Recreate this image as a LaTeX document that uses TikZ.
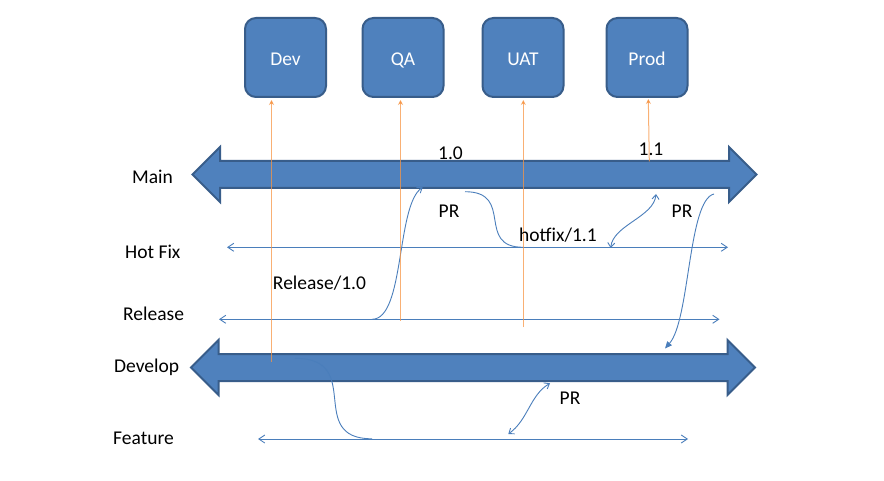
\documentclass[tikz,border=0pt]{standalone}
\usepackage{fontspec}
\setmainfont{Carlito}
\usetikzlibrary{arrows.meta,shapes.arrows}
\definecolor{boxblue}{HTML}{4F81BD}
\definecolor{boxedge}{HTML}{385D8A}
\definecolor{conn}{HTML}{4A7EBB}
\definecolor{orangeln}{HTML}{F79646}
\newcommand{\boxtxt}[1]{\raisebox{-1.5pt}{#1}}
\begin{document}
\begin{tikzpicture}[x=1pt,y=-1pt,
  font=\fontsize{19.5}{23}\selectfont,
  envbox/.style={draw=boxedge, fill=boxblue, line width=2pt, rounded corners=11pt,
    minimum width=81pt, minimum height=79pt, inner sep=0pt, text=white,
    text height=12.6pt, text depth=0pt},
  bigarr/.style={double arrow, draw=boxedge, fill=boxblue, line width=2pt,
    inner xsep=0pt, inner ysep=12.5pt, double arrow head extend=14pt,
    minimum height=564pt},
  lbl/.style={anchor=base west, inner sep=0pt},
  clbl/.style={anchor=base, inner sep=0pt},
  thinln/.style={draw=conn, line width=0.9pt},
  orng/.style={draw=orangeln, line width=1pt, draw opacity=0.75},
  openhd/.tip={Straight Barb[length=6pt,width=8pt]},
  smallhd/.tip={Straight Barb[length=4.5pt,width=7pt]},
  orhd/.tip={Stealth[length=5pt,width=5pt]},
  fillhd/.tip={Triangle[length=7pt,width=6pt]}
]
\fill[white] (0,0) rectangle (884,481);
\useasboundingbox (0,0) rectangle (884,481);

% environment boxes
\node[envbox] (Dev)  at (285.5,57.5) {\boxtxt{Dev}};
\node[envbox] (QA)   at (403,57.5)   {\boxtxt{QA}};
\node[envbox] (UAT)  at (523,57.5)   {\boxtxt{UAT}};
\node[envbox] (Prod) at (647,57.5)   {\boxtxt{Prod}};

% main and develop branches
\node[bigarr] (main) at (474.5,174.5) {};
\node[bigarr] (develop) at (473,367.5) {};

% branch lines
\coordinate (hfL) at (227,247.3);
\coordinate (hfR) at (728,247.3);
\coordinate (relL) at (219,319.3);
\coordinate (relR) at (719.5,319.3);
\coordinate (ftL) at (258,439);
\coordinate (ftR) at (688,439);
\draw[thinln, openhd-openhd] (hfL) -- (hfR);
\draw[thinln, openhd-openhd] (relL) -- (relR);
\draw[thinln, openhd-openhd] (ftL) -- (ftR);

% curved connectors
\coordinate (c1a) at (372,319.3);
\coordinate (c1b) at (422.7,187.3);
\draw[thinln, -smallhd] (c1a) .. controls (405,319.3) and (396,205) .. (c1b);

\coordinate (c2a) at (465,191.7);
\coordinate (c2b) at (523.3,247.3);
\draw[thinln] (c2a) .. controls (515,191.7) and (475,247.3) .. (c2b);

\coordinate (c3a) at (610.7,248);
\coordinate (c3b) at (656,194);
\draw[thinln, smallhd-smallhd] (c3a) .. controls (613,225) and (654,217) .. (c3b);

\coordinate (c4a) at (714,194);
\coordinate (c4b) at (665,348.5);
\draw[thinln, -fillhd] (c4a) .. controls (688,200) and (690,320) .. (c4b);

\coordinate (c5a) at (295,358.3);
\coordinate (c5b) at (372,438.8);
\draw[thinln] (c5a) .. controls (365,358.3) and (305,438.8) .. (c5b);

\coordinate (c6a) at (508.3,434);
\coordinate (c6b) at (550,383.3);
\draw[thinln, smallhd-smallhd] (c6a) .. controls (528,420) and (530,395) .. (c6b);

% deployments
\coordinate (oDev) at (271.5,362);
\coordinate (oQA) at (400.5,320.5);
\coordinate (oUAT) at (523.3,327);
\coordinate (oProd) at (649.3,161.5);
\coordinate (oProdT) at (648.3,97);
\draw[orng, -orhd, shorten >=2pt] (oDev) -- (oDev |- Dev.south);
\draw[orng, -orhd, shorten >=2pt] (oQA) -- (oQA |- QA.south);
\draw[orng, -orhd, shorten >=2pt] (oUAT) -- (oUAT |- UAT.south);
\draw[orng, -orhd, shorten >=2pt] (oProd) -- (oProdT);

% labels
\node[lbl] (tMain) at (132,184) {Main};
\node[lbl] (tHot) at (125,259) {Hot Fix};
\node[lbl] (tRel) at (123,320.5) {Release};
\node[lbl] (tDev) at (114,372) {Develop};
\node[lbl] (tFeat) at (113,444) {Feature};

\node[clbl] (t10) at (450.5,160) {1.0};
\node[clbl] (t11) at (651,156) {1.1};
\node[clbl] (tPR1) at (449,218) {PR};
\node[clbl] (tHf) at (558,241.5) {hotfix/1.1};
\node[clbl] (tPR2) at (682,218) {PR};
\node[clbl] (tRel10) at (319.5,289.5) {Release/1.0};
\node[clbl] (tPR3) at (570,404) {PR};
\end{tikzpicture}
\end{document}
